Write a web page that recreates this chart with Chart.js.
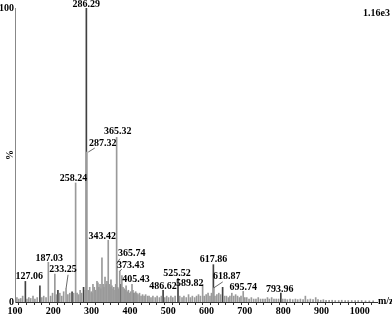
<!DOCTYPE html>
<html>
<head>
<meta charset="utf-8">
<script src="https://cdn.jsdelivr.net/npm/chart.js@4.4.1/dist/chart.umd.min.js"></script>
<style>
  body { margin: 0; background: #fff; }
  canvas { display: block; }
</style>
</head>
<body>
<canvas id="ms" width="392" height="315"></canvas>
<script>
// Пики спектра (m/z и относительная интенсивность, %)
const grayMz = [105, 110, 115, 120, 131, 136, 141, 147, 152, 158, 170, 175, 181, 187.03, 193, 198, 204, 208, 217, 222, 227, 233.25, 238, 243, 253, 258.24, 262, 266, 270, 274, 283, 287.32, 291, 295, 299, 303.5, 307, 310, 314, 316.5, 319, 322, 324, 327, 330, 332, 335, 338, 340, 343.42, 346, 348, 350.5, 353, 356, 358, 361, 363, 365.32, 365.74, 368, 371, 373.43, 379, 382, 385, 388, 390, 393, 396, 399, 402, 405.43, 408, 412, 415, 418, 421, 425, 429, 433, 437, 441, 446, 450, 455, 460, 466, 471, 477, 482, 491, 496, 501, 507, 512, 518, 530, 536, 541, 547, 553, 558, 563, 569, 574, 579, 584, 589.82, 594, 599, 604, 609, 613, 618.87, 622, 627, 632, 637, 647, 652, 657, 661, 666, 671, 676, 681, 686, 690, 695.74, 700, 705, 711, 717, 723, 729, 735, 741, 747, 753, 759, 764, 770, 776, 782, 788, 799, 805, 811, 818, 825, 832, 838, 845, 852, 858, 864, 871, 878, 885, 891, 898, 905, 912, 920, 928, 936, 945, 953, 962, 970, 979, 988, 996, 1005, 1015, 1025, 1035];
const grayPct = [1.5, 1, 1.2, 2, 1, 1.5, 1.2, 2, 1, 1.5, 1.5, 2, 1.5, 13.5, 2, 3, 9.5, 2.5, 3, 2, 3.5, 4.5, 2.5, 3, 3, 40.5, 3, 2.5, 4, 3, 4, 51, 4, 5, 3.5, 6, 5, 4, 7, 6.5, 5, 6, 4.5, 15, 6, 5, 8.5, 6, 7, 21, 6, 5, 7.5, 5.5, 4.5, 5, 4, 6, 56, 13, 5, 4.5, 10.5, 9, 5, 4.5, 4, 5.5, 3.5, 4, 3, 3.5, 6, 4, 3, 3.5, 3, 2.5, 3, 2, 2.5, 2, 2.5, 2, 2, 1.5, 2, 1.5, 2, 1.5, 2, 1.5, 2, 1.5, 2, 1.5, 2, 2, 1.5, 2, 1.5, 2.5, 1.5, 2, 1.5, 2, 2.5, 2, 6, 2, 2.5, 3, 2, 3, 4.8, 2, 2.5, 3, 2.5, 2, 2, 1.5, 2, 3, 2, 2.5, 2, 1.5, 2, 3.6, 1.5, 1.5, 1, 1.5, 1, 1, 1.5, 1, 1, 1, 1.5, 1, 1.5, 1, 1, 1, 1, 1, 0.8, 1, 0.8, 1, 0.8, 1, 0.8, 2, 0.8, 1, 0.8, 1.5, 0.8, 0.6, 0.8, 0.6, 0.6, 0.6, 0.5, 0.5, 0.6, 0.5, 0.5, 0.5, 0.5, 0.5, 0.5, 0.4, 0.4, 0.4];
const darkMz = [127.06, 165, 212, 249, 279, 286.29, 300, 376, 410, 486.62, 525.52, 617.86, 642, 793.96];
const darkPct = [7, 5.5, 4, 3.5, 5, 100, 3, 6, 3, 4, 8, 12.7, 5, 3];

// Подписанные пики
const labelMz = [286.29, 287.32, 365.32, 258.24, 343.42, 365.74, 373.43, 405.43, 486.62, 525.52, 589.82, 617.86, 618.87, 695.74, 793.96, 127.06, 187.03, 233.25];

const xTicks = [100, 200, 300, 400, 500, 600, 700, 800, 900, 1000];

const font = { family: 'Liberation Serif', size: 10, weight: 'bold' };

// Смещения подписей относительно вершины пика (px), lead - выноска
const labelPos = {
  '286.29': { dx: 0, dy: -4 },
  '287.32': { dx: 16, dy: -9, lead: [1.5, 0, 8, -4] },
  '365.32': { dx: 1, dy: -6 },
  '258.24': { dx: -2, dy: -5 },
  '343.42': { dx: -6, dy: -4 },
  '365.74': { dx: 15, dy: -10, lead: [0, 0, 3, -5] },
  '373.43': { dx: 11, dy: -6, lead: [0, 0, 2, -2] },
  '405.43': { dx: 4, dy: -5 },
  '486.62': { dx: 0, dy: -4 },
  '525.52': { dx: -1, dy: -5 },
  '589.82': { dx: -13, dy: -1 },
  '617.86': { dx: 0, dy: -5 },
  '618.87': { dx: 13, dy: -11, lead: [0, 0, 9, -6] },
  '695.74': { dx: 0, dy: -4 },
  '793.96': { dx: -1, dy: -4 },
  '127.06': { dx: 4, dy: -5 },
  '187.03': { dx: 1, dy: -4 },
  '233.25': { dx: -3, dy: -19, lead: [0, 0, 2, -14] }
};

const peakLabels = {
  id: 'peakLabels',
  afterDatasetsDraw(chart) {
    const { ctx, scales: { x, y } } = chart;
    const all = grayMz.concat(darkMz);
    const allPct = grayPct.concat(darkPct);
    ctx.save();
    ctx.font = 'bold 10px "Liberation Serif"';
    ctx.fillStyle = '#000';
    ctx.textAlign = 'center';
    ctx.textBaseline = 'middle';
    labelMz.forEach(m => {
      const i = all.indexOf(m);
      const px = x.getPixelForValue(m);
      const py = y.getPixelForValue(allPct[i]);
      const p = labelPos[m.toFixed(2)] || { dx: 0, dy: -5 };
      if (p.lead) {
        ctx.strokeStyle = '#444';
        ctx.lineWidth = 0.8;
        ctx.beginPath();
        ctx.moveTo(px + p.lead[0], py + p.lead[1]);
        ctx.lineTo(px + p.lead[2], py + p.lead[3]);
        ctx.stroke();
      }
      ctx.fillText(m.toFixed(2), px + p.dx, py + p.dy);
    });
    // служебные подписи
    ctx.textAlign = 'right';
    ctx.fillText('1.16e3', 390, 13);
    ctx.textAlign = 'left';
    ctx.fillText('m/z', 378, 301);
    ctx.translate(10, 155);
    ctx.rotate(-Math.PI / 2);
    ctx.textAlign = 'center';
    ctx.fillText('%', 0, 0);
    ctx.restore();
  }
};

new Chart(document.getElementById('ms'), {
  type: 'bar',
  data: {
    datasets: [
      {
        data: grayMz.map((m, i) => ({ x: m, y: grayPct[i] })),
        backgroundColor: '#9a9a9a',
        barThickness: 1,
        grouped: false
      },
      {
        data: darkMz.map((m, i) => ({ x: m, y: darkPct[i] })),
        backgroundColor: '#404040',
        barThickness: 1,
        grouped: false
      }
    ]
  },
  options: {
    responsive: false,
    animation: false,
    layout: { padding: { top: 8, right: 15, left: 0, bottom: 0 } },
    plugins: { legend: { display: false }, tooltip: { enabled: false } },
    scales: {
      x: {
        type: 'linear',
        min: 100,
        max: 1045,
        offset: false,
        grid: { drawOnChartArea: false, tickLength: 3, color: '#333' },
        border: { color: '#333' },
        ticks: {
          stepSize: 20,
          includeBounds: false,
          autoSkip: false,
          maxRotation: 0,
          padding: 0,
          font: font,
          color: '#000',
          callback: v => (xTicks.includes(v) ? v : '')
        },
        afterFit: s => { s.height = 13; }
      },
      y: {
        min: 0,
        max: 100,
        afterBuildTicks: s => { s.ticks = [{ value: 0 }, { value: 100 }]; },
        grid: { display: false, drawTicks: false, tickLength: 0 },
        border: { color: '#888' },
        ticks: { font: font, color: '#000', padding: 1 },
        afterFit: s => { s.width = 15; }
      }
    }
  },
  plugins: [peakLabels]
});
</script>
</body>
</html>
